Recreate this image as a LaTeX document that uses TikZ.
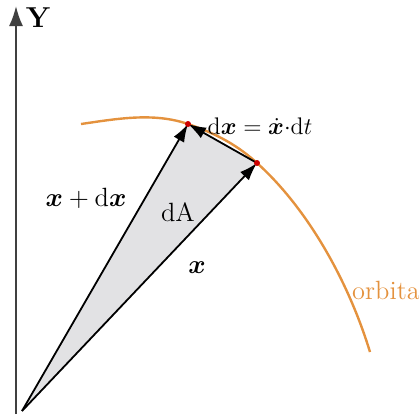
\documentclass[tikz,border=0pt]{standalone}
\usepackage{tikz}
\usetikzlibrary{arrows.meta}
\usepackage{amsmath,amssymb}
\usepackage{bm}
\usepackage{color}

\definecolor{orbitcol}{RGB}{228,146,62}
\definecolor{areacol}{RGB}{226,226,228}

\begin{document}
\begin{tikzpicture}[x=0.5pt, y=-0.5pt, font=\large,
  lab/.style={scale=1.1},
  vec/.style={-{Latex[length=9pt,width=6pt]}, line width=0.9pt},
  axis/.style={-{Latex[length=10pt,width=7pt]}, line width=1pt, black!75}]
\useasboundingbox (0,0) rectangle (419,414);
\coordinate (O) at (22,411);
\coordinate (A) at (188,124);
\coordinate (B) at (257,163);
\coordinate (orbstart) at (81,124);
\coordinate (orbend) at (370,352);
\coordinate (ybot) at (16,414);
\coordinate (ytop) at (16,6);
% area
\fill[areacol] (O) -- (A) -- (B) -- cycle;
% orbit
\draw[orbitcol, line width=1.2pt] (orbstart)
  .. controls (116,119) and (153,112) .. (A)
  .. controls (211,132) and (234,142) .. (B)
  .. controls (307,208) and (348,280) .. (orbend);
% axis
\draw[axis] (ybot) -- (ytop);
\node[font=\Large] at (38,18) (ylab) {\textbf{Y}};
% vectors
\draw (O) edge[vec] (A);
\draw (O) edge[vec] (B);
\draw (B) edge[vec] (A);
\fill[red!80!black] (A) circle (3);
\fill[red!80!black] (B) circle (3);
% labels
\node at (260,126) (dxlab) {$\mathrm{d}\bm{x} = \dot{\bm{x}}{\cdot}\mathrm{d}t$};
\node[lab] at (86,198) (xdxlab) {$\bm{x} + \mathrm{d}\bm{x}$};
\node[lab] at (178,212) (dalab) {dA};
\node[lab] at (197,268) (xlab) {$\bm{x}$};
\node[lab, text=orbitcol] at (386,290) (orblab) {orbita};
\end{tikzpicture}
\end{document}
